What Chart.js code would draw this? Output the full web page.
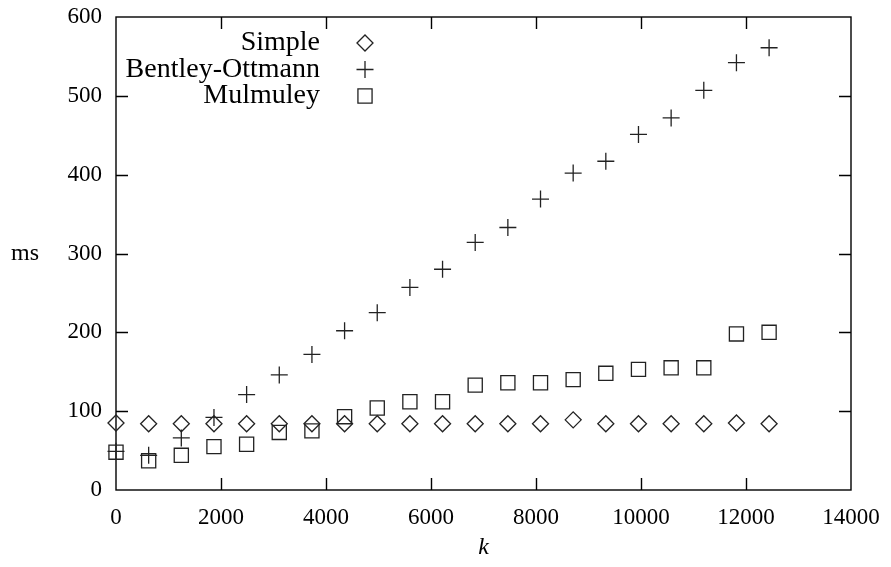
<!DOCTYPE html>
<html>
<head>
<meta charset="utf-8">
<script src="https://cdn.jsdelivr.net/npm/chart.js@4/dist/chart.umd.min.js"></script>
<style>
  html, body { margin: 0; padding: 0; background: #fff; }
  #wrap { width: 891px; height: 567px; }
</style>
</head>
<body>
<div id="wrap"><canvas id="timingChart"></canvas></div>
<script>
const kValues = [0, 622, 1244, 1866, 2488, 3110, 3732, 4354, 4976, 5598, 6220,
    6842, 7464, 8086, 8708, 9330, 9952, 10574, 11196, 11818, 12440];
const simpleMs = [85, 84, 84, 84, 84, 84, 84, 84, 84, 84, 84,
    84, 84, 84, 89, 84, 84, 84, 84, 85, 84];
const bentleyMs = [49, 44, 66, 92, 121, 146, 172, 202, 225, 257, 280,
    314, 333, 369, 402, 417, 451, 472, 507, 542, 561];
const mulmuleyMs = [48, 37, 44, 55, 58, 73, 75, 93, 104, 112, 112,
    133, 136, 136, 140, 148, 153, 155, 155, 198, 200];
const xTicks = [0, 2000, 4000, 6000, 8000, 10000, 12000, 14000];
const yTicks = [0, 100, 200, 300, 400, 500, 600];

const markColor = '#222';
const serif = "'Liberation Serif', 'DejaVu Serif', serif";

Chart.defaults.font.family = serif;
Chart.defaults.font.size = 23;
Chart.defaults.color = '#000';

function toPoints(values) {
    return kValues.map((k, i) => ({ x: k, y: values[i] }));
}

// gnuplot style frame with inward ticks on all four sides
const framePlugin = {
    id: 'frame',
    beforeDatasetsDraw(chart) {
        const { ctx, chartArea: a, scales: { x, y } } = chart;
        ctx.save();
        ctx.strokeStyle = '#000';
        ctx.lineWidth = 1.4;
        ctx.strokeRect(a.left, a.top, a.right - a.left, a.bottom - a.top);
        ctx.beginPath();
        xTicks.forEach(v => {
            const px = Math.round(x.getPixelForValue(v)) + 0.5;
            if (px < a.left + 2 || px > a.right - 2) return;
            ctx.moveTo(px, a.bottom);
            ctx.lineTo(px, a.bottom - 12);
            ctx.moveTo(px, a.top);
            ctx.lineTo(px, a.top + 12);
        });
        yTicks.forEach(v => {
            const py = Math.round(y.getPixelForValue(v)) + 0.5;
            if (py < a.top + 2 || py > a.bottom - 2) return;
            ctx.moveTo(a.left, py);
            ctx.lineTo(a.left + 12, py);
            ctx.moveTo(a.right, py);
            ctx.lineTo(a.right - 12, py);
        });
        ctx.stroke();
        ctx.restore();
    },
    afterDraw(chart) {
        const { ctx, chartArea: a } = chart;
        ctx.save();
        ctx.fillStyle = '#000';
        ctx.textBaseline = 'middle';

        // axis titles
        ctx.font = '24px ' + serif;
        ctx.textAlign = 'center';
        ctx.fillText('ms', 25, (a.top + a.bottom) / 2);
        ctx.font = 'italic 24px ' + serif;
        ctx.fillText('k', (a.left + a.right) / 2, 548);

        // key, top left inside the plot
        ctx.font = '28px ' + serif;
        ctx.textAlign = 'right';
        chart.data.datasets.forEach((ds, i) => {
            const ly = a.top + 26 + i * 26.5;
            ctx.fillStyle = '#000';
            ctx.fillText(ds.label, 320, ly);
            ctx.strokeStyle = markColor;
            ctx.fillStyle = 'rgba(0,0,0,0)';
            ctx.lineWidth = ds.borderWidth;
            Chart.helpers.drawPoint(ctx, {
                pointStyle: ds.pointStyle,
                radius: ds.pointRadius,
                rotation: 0,
                borderWidth: ds.borderWidth
            }, 365, ly);
        });
        ctx.restore();
    }
};

new Chart(document.getElementById('timingChart'), {
    type: 'scatter',
    data: {
        datasets: [
            {
                label: 'Simple',
                data: toPoints(simpleMs),
                pointStyle: 'rectRot',
                pointRadius: 8,
                borderColor: markColor,
                backgroundColor: 'rgba(0,0,0,0)',
                borderWidth: 1.3
            },
            {
                label: 'Bentley-Ottmann',
                data: toPoints(bentleyMs),
                pointStyle: 'cross',
                pointRadius: 8.5,
                borderColor: markColor,
                backgroundColor: 'rgba(0,0,0,0)',
                borderWidth: 1.3
            },
            {
                label: 'Mulmuley',
                data: toPoints(mulmuleyMs),
                pointStyle: 'rect',
                pointRadius: 10,
                borderColor: markColor,
                backgroundColor: 'rgba(0,0,0,0)',
                borderWidth: 1.3
            }
        ]
    },
    options: {
        responsive: true,
        maintainAspectRatio: false,
        animation: false,
        clip: false,
        events: [],
        layout: {
            padding: { top: 17, right: 40, left: 0, bottom: 0 }
        },
        plugins: {
            legend: { display: false },
            tooltip: { enabled: false }
        },
        scales: {
            x: {
                type: 'linear',
                min: 0,
                max: 14000,
                afterFit: s => {
                    s.height = 77;
                    s.paddingLeft = 0;
                    s.paddingRight = 0;
                },
                afterBuildTicks: s => { s.ticks = xTicks.map(v => ({ value: v })); },
                grid: { display: false },
                border: { display: false },
                ticks: {
                    padding: 6,
                    maxRotation: 0,
                    callback: v => String(v)
                }
            },
            y: {
                min: 0,
                max: 600,
                afterFit: s => {
                    s.width = 116;
                    s.paddingTop = 0;
                    s.paddingBottom = 0;
                },
                afterBuildTicks: s => { s.ticks = yTicks.map(v => ({ value: v })); },
                grid: { display: false },
                border: { display: false },
                ticks: {
                    padding: 6,
                    callback: v => String(v)
                }
            }
        }
    },
    plugins: [framePlugin]
});
</script>
</body>
</html>
